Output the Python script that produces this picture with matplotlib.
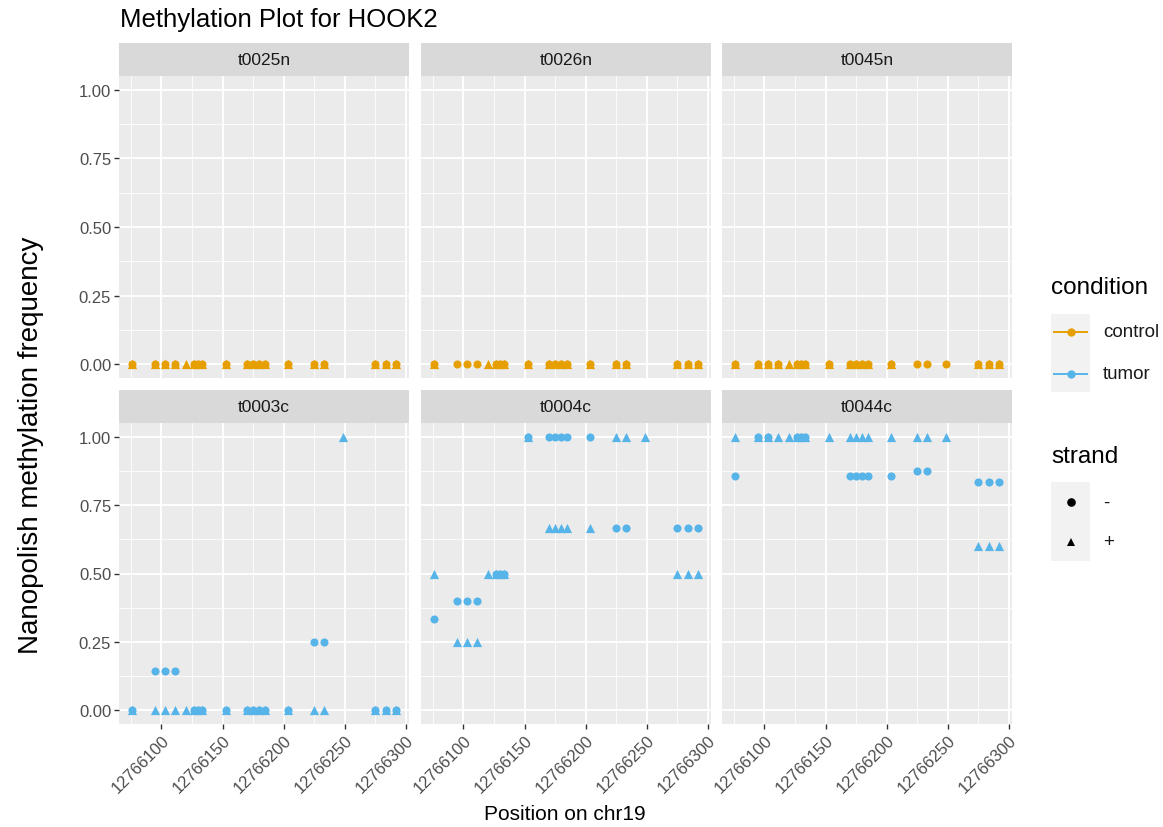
import numpy as np
import matplotlib
matplotlib.use("Agg")
import matplotlib.pyplot as plt
from matplotlib.patches import Rectangle

plt.rcParams['font.family'] = ['Liberation Sans', 'DejaVu Sans']

n = np.nan

# CpG positions on chr19
positions = [12766076, 12766095, 12766103, 12766111, 12766120, 12766127, 12766130,
             12766133, 12766153, 12766170, 12766175, 12766180, 12766185, 12766204,
             12766225, 12766233, 12766249, 12766275, 12766284, 12766292]

# methylation frequency per sample, "-" strand (circles) and "+" strand (triangles)
t0025n_minus = [0, 0, 0, 0, n, 0, 0, 0, 0, 0, 0, 0, 0, 0, 0, 0, n, 0, 0, 0]
t0025n_plus = [0, 0, 0, 0, 0, 0, 0, 0, 0, 0, 0, 0, 0, 0, 0, 0, n, 0, 0, 0]
t0026n_minus = [0, 0, 0, 0, n, 0, 0, 0, 0, 0, 0, 0, 0, 0, 0, 0, n, 0, 0, 0]
t0026n_plus = [0, n, n, n, 0, 0, 0, 0, 0, 0, 0, 0, 0, 0, 0, 0, n, 0, 0, 0]
t0045n_minus = [0, 0, 0, 0, n, 0, 0, 0, 0, 0, 0, 0, 0, 0, 0, 0, 0, 0, 0, 0]
t0045n_plus = [0, 0, 0, 0, 0, 0, 0, 0, 0, 0, 0, 0, 0, 0, n, n, n, 0, 0, 0]
t0003c_minus = [0, 1/7, 1/7, 1/7, n, 0, 0, 0, 0, 0, 0, 0, 0, 0, 0.25, 0.25, n, 0, 0, 0]
t0003c_plus = [0, 0, 0, 0, 0, 0, 0, 0, 0, 0, 0, 0, 0, 0, 0, 0, 1, 0, 0, 0]
t0004c_minus = [1/3, 0.4, 0.4, 0.4, n, 0.5, 0.5, 0.5, 1, 1, 1, 1, 1, 1, 2/3, 2/3, n, 2/3, 2/3, 2/3]
t0004c_plus = [0.5, 0.25, 0.25, 0.25, 0.5, 0.5, 0.5, 0.5, 1, 2/3, 2/3, 2/3, 2/3, 2/3, 1, 1, 1, 0.5, 0.5, 0.5]
t0044c_minus = [6/7, 1, 1, n, n, 1, 1, 1, n, 6/7, 6/7, 6/7, 6/7, 6/7, 7/8, 7/8, n, 5/6, 5/6, 5/6]
t0044c_plus = [1, 1, 1, 1, 1, 1, 1, 1, 1, 1, 1, 1, 1, 1, 1, 1, 1, 0.6, 0.6, 0.6]

samples = [("t0025n", "control", t0025n_minus, t0025n_plus),
           ("t0026n", "control", t0026n_minus, t0026n_plus),
           ("t0045n", "control", t0045n_minus, t0045n_plus),
           ("t0003c", "tumor", t0003c_minus, t0003c_plus),
           ("t0004c", "tumor", t0004c_minus, t0004c_plus),
           ("t0044c", "tumor", t0044c_minus, t0044c_plus)]

x_ticks = [12766100, 12766150, 12766200, 12766250, 12766300]
y_ticks = [0, 0.25, 0.5, 0.75, 1.0]
colors = {"control": "#E69F00", "tumor": "#56B4E9"}

W, H = 1163, 828
fig = plt.figure(figsize=(W / 100, H / 100), dpi=100)


def rect(l, t, w, h):
    return [l / W, 1 - (t + h) / H, w / W, h / H]


col_left = [119, 421, 722]
panel_w = 290
rows = [(44, 77, 302), (391, 424, 301)]  # strip top, panel top, panel height
strip_h = 33

xmin, xmax = min(positions), max(positions)
pad = 0.05 * (xmax - xmin)

for i, (name, cond, minus, plus) in enumerate(samples):
    r, c = divmod(i, 3)
    strip_top, ptop, ph = rows[r]
    ax = fig.add_axes(rect(col_left[c], ptop, panel_w, ph))
    ax.set_facecolor('#EBEBEB')
    for s in ax.spines.values():
        s.set_visible(False)
    ax.set_xticks(x_ticks)
    ax.set_xticks([t - 25 for t in x_ticks], minor=True)
    ax.set_yticks(y_ticks)
    ax.set_yticks([0.125, 0.375, 0.625, 0.875], minor=True)
    ax.set_xticklabels([str(t) for t in x_ticks])
    ax.set_yticklabels(["%.2f" % t for t in y_ticks])
    # limits after ticks, so the ticks don't widen the view
    ax.set_xlim(xmin - pad, xmax + pad)
    ax.set_ylim(-0.05, 1.05)
    ax.grid(which='major', color='white', lw=1.3)
    ax.grid(which='minor', color='white', lw=0.6)
    ax.set_axisbelow(True)
    ax.tick_params(which='minor', length=0)
    ax.tick_params(which='major', length=3.6, width=1.0, color='#333333',
                   labelsize=12, labelcolor='#4D4D4D', pad=2)
    plt.setp(ax.get_xticklabels(), rotation=45, ha='right', va='top',
             rotation_mode='anchor')
    if r == 0:
        ax.tick_params(axis='x', length=0, labelbottom=False)
    if c > 0:
        ax.tick_params(axis='y', length=0, labelleft=False)

    col = colors[cond]
    ax.scatter(positions, minus, marker='o', s=34, color=col, linewidths=0, zorder=3)
    ax.scatter(positions, plus, marker='^', s=44, color=col, linewidths=0, zorder=3)

    sax = fig.add_axes(rect(col_left[c], strip_top, panel_w, strip_h))
    sax.set_facecolor('#D9D9D9')
    sax.set_xticks([])
    sax.set_yticks([])
    for s in sax.spines.values():
        s.set_visible(False)
    sax.text(0.5, 0.5, name, ha='center', va='center', fontsize=12.5,
             color='#1A1A1A', transform=sax.transAxes)

# titles
fig.text(120 / W, 1 - 27 / H, "Methylation Plot for HOOK2", fontsize=18.5,
         ha='left', va='baseline', color='black')
fig.text(565 / W, 1 - 815 / H, "Position on chr19", fontsize=15,
         ha='center', va='center', color='black')
fig.text(31 / W, 1 - 445 / H, "Nanopolish methylation frequency", fontsize=20,
         ha='center', va='center', rotation=90, color='black')

# legend, drawn in pixel coordinates
lax = fig.add_axes([0, 0, 1, 1])
lax.set_xlim(0, W)
lax.set_ylim(H, 0)
lax.axis('off')

lax.text(1051, 288, "condition", fontsize=17.5, ha='left', va='center')
lax.add_patch(Rectangle((1051, 315), 39, 78, color='#F2F2F2', lw=0))
for yk, cond in [(333, "control"), (375, "tumor")]:
    lax.plot([1054, 1087], [yk, yk], color=colors[cond], lw=1.4)
    lax.plot([1070.5], [yk], marker='o', ms=6, color=colors[cond], mew=0)
    lax.text(1103, yk, cond, fontsize=13.5, ha='left', va='center', color='#1A1A1A')

lax.text(1051, 457, "strand", fontsize=17.5, ha='left', va='center')
lax.add_patch(Rectangle((1051, 483), 39, 79, color='#F2F2F2', lw=0))
for yk, mk, lab in [(503, 'o', '-'), (543, '^', '+')]:
    lax.plot([1070.5], [yk], marker=mk, ms=6.2, color='black', mew=0)
    lax.text(1103, yk, lab, fontsize=13.5, ha='left', va='center', color='#1A1A1A')

fig.savefig("out.png", dpi=100)
